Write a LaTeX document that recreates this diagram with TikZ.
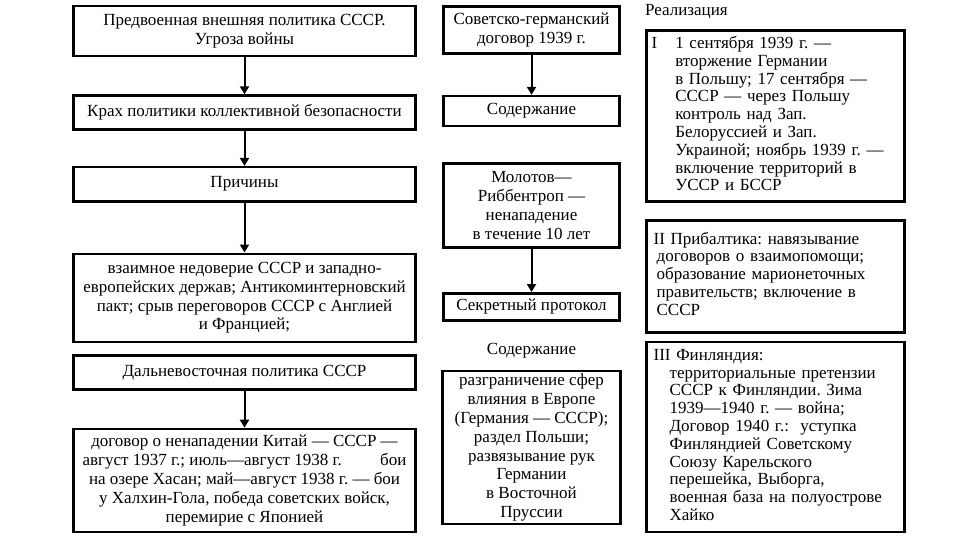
\documentclass[tikz,border=0pt]{standalone}
\usepackage{fontspec}
\setmainfont{Liberation Serif}
\usetikzlibrary{positioning,arrows.meta}
\frenchspacing

\begin{document}
\begin{tikzpicture}[
    x=1pt, y=1pt,
    block/.style={
        rectangle, draw,
        align=center, inner sep=2pt,
        line width=2.6pt, font=\fontsize{17}{18.8}\selectfont
    },
    leftblock/.style={block, minimum width=342pt},
    midblock/.style={block, minimum width=176pt},
    realblock/.style={block, align=left, text width=248pt, inner sep=5pt,
        font=\fontsize{17}{17.8}\selectfont},
    plain/.style={inner sep=0pt, font=\fontsize{17}{18.8}\selectfont},
    arrow/.style={-{Triangle[length=8pt,width=9pt]}, line width=2pt}
]
  \useasboundingbox (0,0) rectangle (960,-540);

  % Left column
  \node[leftblock, minimum height=50pt] (prewar) at (244.5,-31) {Предвоенная внешняя политика СССР.\\Угроза войны};
  \node[leftblock, minimum height=34pt, below=37pt of prewar] (collapse) {Крах политики коллективной безопасности};
  \node[leftblock, minimum height=34pt, below=35pt of collapse] (causes) {Причины};
  \node[leftblock, minimum height=88pt, below=50pt of causes] (distrust) {взаимное недоверие СССР и западно-\\европейских держав; Антикоминтерновский\\пакт; срыв переговоров СССР с Англией\\и Францией;};
  \node[leftblock, minimum height=34pt, below=11pt of distrust] (fareast) {Дальневосточная политика СССР};
  \node[leftblock, minimum height=103pt, below=37pt of fareast] (battles) {договор о ненападении Китай — СССР —\\август 1937 г.; июль—август 1938 г. \quad\quad бои\\на озере Хасан; май—август 1938 г. — бои\\у Халхин-Гола, победа советских войск,\\перемирие с Японией};

  \draw[arrow] (prewar) -- (collapse);
  \draw[arrow] (collapse) -- (causes);
  \draw[arrow] (causes) -- (distrust);
  \draw[arrow] (fareast) -- (battles);

  % Middle column
  \node[midblock, minimum height=47pt] (pact) at (531.5,-30) {Советско-германский\\договор 1939 г.};
  \node[midblock, minimum height=30pt, below=40pt of pact] (content) {Содержание};
  \node[midblock, minimum height=84pt, below=35pt of content] (molotov) {Молотов—\\Риббентроп —\\ненападение\\в течение 10 лет};
  \node[midblock, minimum height=27pt, below=43pt of molotov] (protocol) {Секретный протокол};
  \node[plain, below=21pt of protocol] (contentlbl) {Содержание};
  \node[midblock, minimum width=178pt, minimum height=153pt, below=12pt of contentlbl] (spheres) {разграничение сфер\\влияния в Европе\\(Германия — СССР);\\раздел Польши;\\развязывание рук\\Германии\\в Восточной\\Пруссии};

  \draw[arrow] (pact) -- (content);
  \draw[arrow] (molotov) -- (protocol);

  % Right column
  \node[plain, anchor=west] (realis) at (645,-12) {Реализация};
  \node[realblock, minimum height=171pt, anchor=north west] (real1) at (645.3,-29.3) {%
    \begin{tabular}{@{}l@{\hspace{18pt}}l@{}}
      I & 1 сентября 1939 г. —\\
        & вторжение Германии\\
        & в Польшу; 17 сентября —\\
        & СССР — через Польшу\\
        & контроль над Зап.\\
        & Белоруссией и Зап.\\
        & Украиной; ноябрь 1939 г. —\\
        & включение территорий в\\
        & УССР и БССР
    \end{tabular}};
  \node[realblock, minimum height=112pt, below=16pt of real1] (real2) {%
    \begin{tabular}{@{\hspace{2pt}}l@{}}
      II\ Прибалтика: навязывание\\
      \hspace{3pt}договоров о взаимопомощи;\\
      \hspace{3pt}образование марионеточных\\
      \hspace{3pt}правительств; включение в\\
      \hspace{3pt}СССР
    \end{tabular}};
  \node[realblock, minimum height=190pt, below=7pt of real2] (real3) {%
    \begin{tabular}{@{\hspace{2pt}}l@{}}
      III Финляндия:\\
      \hspace{16pt}территориальные претензии\\
      \hspace{16pt}СССР к Финляндии. Зима\\
      \hspace{16pt}1939—1940 г. — война;\\
      \hspace{16pt}Договор 1940 г.:\ \ уступка\\
      \hspace{16pt}Финляндией Советскому\\
      \hspace{16pt}Союзу Карельского\\
      \hspace{16pt}перешейка, Выборга,\\
      \hspace{16pt}военная база на полуострове\\
      \hspace{16pt}Хайко
    \end{tabular}};

\end{tikzpicture}
\end{document}
